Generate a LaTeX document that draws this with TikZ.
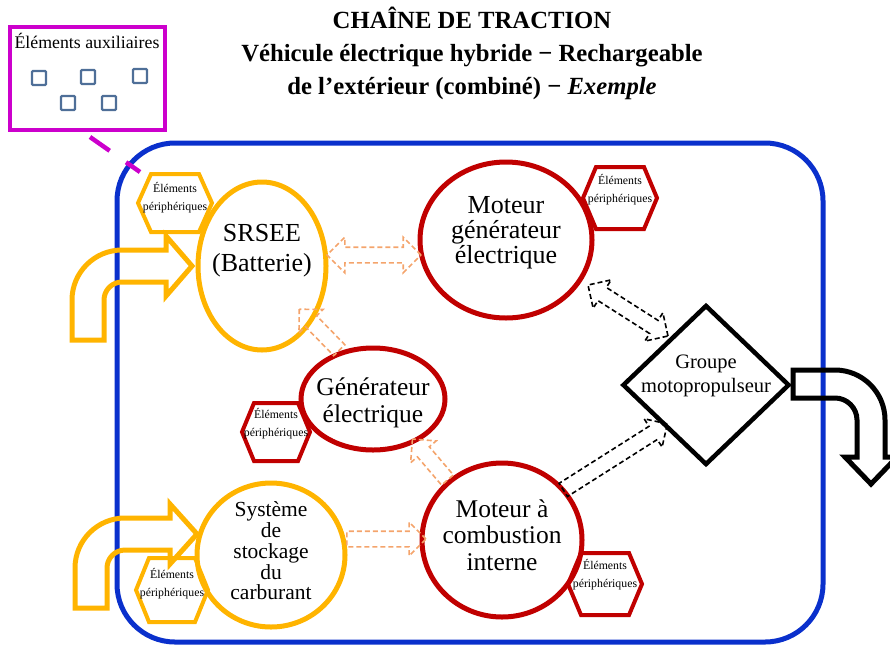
\documentclass[tikz,border=0pt]{standalone}
\usepackage{fontspec}
\setmainfont{Liberation Serif}
\usetikzlibrary{shapes.geometric,shapes.arrows,calc}
\definecolor{yel}{HTML}{FFB400}
\definecolor{rd}{HTML}{C00000}
\definecolor{lor}{HTML}{F4A46C}
\definecolor{blu}{HTML}{0A30CC}
\definecolor{mag}{HTML}{CC00CC}
\definecolor{sq}{HTML}{4F6F98}
\newcommand\hexa[5]{%
  \draw[#1] ($(#2)+(-#3,0)$) -- ++(#4,-#5) -- ($(#2)+(#3-#4,-#5)$) -- ($(#2)+(#3,0)$)
   -- ($(#2)+(#3-#4,#5)$) -- ($(#2)+(-#3+#4,#5)$) -- cycle;}
\newcommand\harrow[4]{%
  \path let \p1=($(#3)-(#2)$), \n1={veclen(\x1,\y1)} in (#2) -- (#3)
    node[#1, midway, sloped, allow upside down, minimum height=\n1] (#4) {};}
\begin{document}
\begin{tikzpicture}[x=1pt,y=-1pt,
  frame/.style={draw=blu, line width=5pt, rounded corners=58pt, inner sep=0pt},
  circY/.style={ellipse, draw=yel, line width=5pt, inner sep=0pt},
  circR/.style={ellipse, draw=rd, line width=5pt, inner sep=0pt},
  hexY/.style={draw=yel, line width=4pt, line join=miter},
  hexR/.style={draw=rd, line width=4pt, line join=miter},
  bigtxt/.style={align=center, inner sep=0pt, font=\fontsize{25}{26}\selectfont},
  smalltxt/.style={align=center, inner sep=0pt, font=\fontsize{11.8}{18}\selectfont},
  arrO/.style={single arrow, draw=lor, dash pattern=on 5pt off 3pt, line width=1.6pt, inner sep=7pt, single arrow head extend=9pt},
  darrO/.style={double arrow, draw=lor, dash pattern=on 5pt off 3pt, line width=1.6pt, inner sep=7pt, double arrow head extend=10pt},
  arrK/.style={single arrow, draw=black, dash pattern=on 5pt off 3pt, line width=1.6pt, inner sep=7pt, single arrow head extend=9pt},
  darrK/.style={double arrow, draw=black, dash pattern=on 5pt off 3pt, line width=1.6pt, inner sep=7pt, double arrow head extend=9pt},
  fatY/.style={draw=yel, line width=5pt, line join=miter},
  fatK/.style={draw=black, line width=5pt, line join=miter},
  sqbox/.style={draw=sq, line width=2.2pt, minimum size=14pt, inner sep=0pt, rounded corners=1pt}
]
\useasboundingbox (0,0) rectangle (890,648);

% title
\node[anchor=base, font=\fontsize{24.7}{33}\selectfont\bfseries] (title1) at (472,28) {CHAÎNE DE TRACTION};
\node[anchor=base, font=\fontsize{24.7}{33}\selectfont\bfseries] (title2) at (472,61) {Véhicule électrique hybride − Rechargeable};
\node[anchor=base, font=\fontsize{24.7}{33}\selectfont\bfseries] (title3) at (472,94) {de l’extérieur (combiné) − \textit{Exemple}};

% auxiliary box
\node[draw=mag, line width=4.5pt, minimum width=155pt, minimum height=103pt, inner sep=0pt] (aux) at (87.5,78.5) {};
\node[anchor=base, inner sep=0pt, font=\fontsize{17.8}{20}\selectfont] (auxt) at (87,48) {Éléments auxiliaires};
\node[sqbox] (s1) at (39,78) {};
\node[sqbox] (s2) at (88,77) {};
\node[sqbox] (s3) at (140,76) {};
\node[sqbox] (s4) at (68,103) {};
\node[sqbox] (s5) at (109,103) {};

% frame
\node[frame, minimum width=706pt, minimum height=499pt] (frm) at (470,392.5) {};
\coordinate (mg1) at (90,137);
\coordinate (mg2) at (140,172);
\draw[mag, line width=4.5pt, dash pattern=on 24pt off 20pt] (mg1) -- (mg2);

% main components
\node[circY, minimum width=128pt, minimum height=168pt] (srsee) at (262,266) {};
\node[bigtxt, font=\fontsize{26}{30}\selectfont] (srseet) at (262,251) {SRSEE\\(Batterie)};

\node[circR, minimum width=172pt, minimum height=156pt] (mge) at (506,240) {};
\node[bigtxt, font=\fontsize{26}{25}\selectfont] (mget) at (506,233) {Moteur\\générateur\\électrique};

\node[circR, minimum width=144pt, minimum height=102pt] (gen) at (373,399) {};
\node[bigtxt, font=\fontsize{25.5}{27}\selectfont] (gent) at (373,403) {Générateur\\électrique};

\node[circR, minimum width=160pt, minimum height=154pt] (ice) at (502,540) {};
\node[bigtxt, font=\fontsize{25.5}{26.5}\selectfont] (icet) at (502,535) {Moteur à\\combustion\\interne};

\node[circY, minimum width=148pt, minimum height=144pt] (fuel) at (271,555) {};
\node[bigtxt, font=\fontsize{21.5}{20.8}\selectfont] (fuelt) at (271,551) {Système\\de\\stockage\\du\\carburant};

\node[diamond, draw=black, line width=4.5pt, minimum width=167pt, minimum height=160pt, inner sep=0pt] (gmp) at (706,385) {};
\node[bigtxt, font=\fontsize{20.5}{24}\selectfont] (gmpt) at (706,376) {Groupe\\motopropulseur};

% peripheral hexagons
\coordinate (h1) at (175,203);
\coordinate (h2) at (620,198);
\coordinate (h3) at (276,432);
\coordinate (h4) at (605,584);
\coordinate (h5) at (172,590);
\hexa{hexY}{h1}{37}{13}{29}
\hexa{hexR}{h2}{37}{13}{31}
\hexa{hexR}{h3}{34}{12}{29}
\hexa{hexR}{h4}{37}{13}{31}
\hexa{hexY}{h5}{36}{13}{32}
\node[smalltxt] (h1t) at (175,198) {Éléments\\périphériques};
\node[smalltxt] (h2t) at (620,190) {Éléments\\périphériques};
\node[smalltxt] (h3t) at (276,424) {Éléments\\périphériques};
\node[smalltxt] (h4t) at (605,575) {Éléments\\périphériques};
\node[smalltxt] (h5t) at (172,584) {Éléments\\périphériques};

% input arrows
\draw[fatY] (72,340) -- (72,300) .. controls (72,272.4) and (94.4,250) .. (122,250)
  -- (166,250) -- (166,236) -- (192,266) -- (166,296) -- (166,282) -- (122,282)
  .. controls (112.1,282) and (104,290.1) .. (104,300) -- (104,340) -- cycle;
\draw[fatY] (75,608) -- (75,568) .. controls (75,540.4) and (97.4,518) .. (125,518)
  -- (170,518) -- (170,504) -- (197,534) -- (170,564) -- (170,550) -- (125,550)
  .. controls (115.1,550) and (107,558.1) .. (107,568) -- (107,608) -- cycle;

% output arrow
\draw[fatK] (793,370) -- (835,370) .. controls (862.6,370) and (885,392.4) .. (885,420)
  -- (885,457) -- (897,457) -- (871,484) -- (845,457) -- (857,457) -- (857,420)
  .. controls (857,407.9) and (847.1,398) .. (835,398) -- (793,398) -- cycle;

% dashed hollow arrows
\coordinate (p1a) at (327,255); \coordinate (p1b) at (421,255);
\coordinate (p2a) at (342,353); \coordinate (p2b) at (302,312);
\coordinate (p3a) at (450,483); \coordinate (p3b) at (415,442);
\coordinate (p4a) at (343,539); \coordinate (p4b) at (422,539);
\coordinate (p5a) at (588,285); \coordinate (p5b) at (668,336);
\coordinate (p6a) at (560,492); \coordinate (p6b) at (664,426);
\harrow{darrO}{p1a}{p1b}{a1}
\harrow{arrO}{p2a}{p2b}{a2}
\harrow{arrO}{p3a}{p3b}{a3}
\harrow{arrO}{p4a}{p4b}{a4}
\harrow{darrK}{p5a}{p5b}{a5}
\harrow{arrK}{p6a}{p6b}{a6}
\end{tikzpicture}
\end{document}
